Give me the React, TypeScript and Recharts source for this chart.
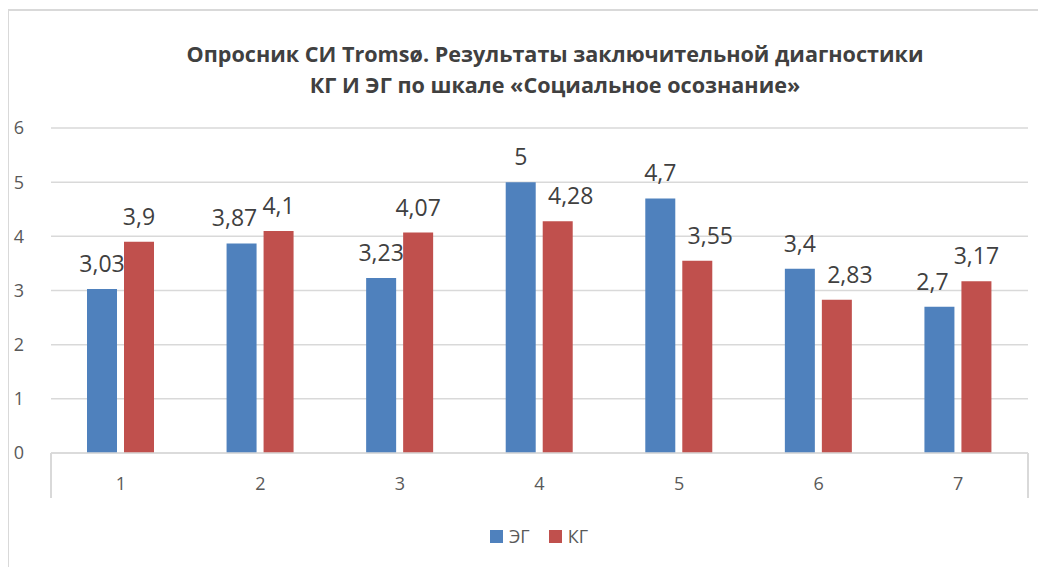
import React from 'react';
import {
    BarChart, Bar, XAxis, YAxis, CartesianGrid, LabelList
} from 'recharts';

const categories = ['1', '2', '3', '4', '5', '6', '7'];
const egValues = [3.03, 3.87, 3.23, 5, 4.7, 3.4, 2.7];
const kgValues = [3.9, 4.1, 4.07, 4.28, 3.55, 2.83, 3.17];
const yTicks = [0, 1, 2, 3, 4, 5, 6];

const seriesNames = ['ЭГ', 'КГ'];
const seriesColors = ['#4F81BD', '#C0504D'];

const titleLines = [
    'Опросник СИ Tromsø. Результаты заключительной диагностики',
    'КГ И ЭГ по шкале «Социальное осознание»',
];

const data = categories.map((c, i) => ({ name: c, eg: egValues[i], kg: kgValues[i] }));

const FONT = '"Open Sans", sans-serif';
const TEXT = '#595959';
const GRID = '#d9d9d9';

const fmt = (v: any) => String(v).replace('.', ',');

// value label above a bar; nudged sideways when the neighbour bar is close in height
function makeLabel(series: 'eg' | 'kg') {
    return (props: any) => {
        const { x, y, width, value, index } = props;
        const other = series === 'eg' ? kgValues[index] : egValues[index];
        let dx = 0;
        if (series === 'kg' && other > value) dx = 13;
        if (series === 'eg' && other > value && other - value < 0.5) dx = -7;
        return (
            <text x={x + width / 2 + dx} y={y - 17} textAnchor="middle" fill="#404040" fontSize={23} fontFamily={FONT}>
                {fmt(value)}
            </text>
        );
    };
}

export default function App() {
    return (
        <div style={{ position: 'relative', width: 1038, height: 559 }}>
            <div style={{ position: 'absolute', left: -8, top: -8, width: 1046, height: 567, overflow: 'hidden', background: '#fff' }}>
                {/* chart frame */}
                <div style={{ position: 'absolute', left: 7, top: 9, width: 1100, height: 600, borderLeft: `2px solid ${GRID}`, borderTop: `2px solid ${GRID}` }} />
                <div style={{ position: 'absolute', left: 0, top: 38, width: 1110, textAlign: 'center', fontFamily: FONT, fontWeight: 700, fontSize: 21.6, lineHeight: '31px', color: '#404040' }}>
                    {titleLines.map((t) => <div key={t}>{t}</div>)}
                </div>
                <div style={{ position: 'absolute', left: 0, top: 0 }}>
                    <BarChart
                        width={1046}
                        height={567}
                        data={data}
                        margin={{ top: 128, right: 18, bottom: 84, left: 0 }}
                        barSize={30}
                        barGap={7}
                    >
                        <CartesianGrid vertical={false} stroke={GRID} strokeWidth={1.5} />
                        <XAxis
                            dataKey="name"
                            height={30}
                            axisLine={{ stroke: GRID, strokeWidth: 1.5 }}
                            tickLine={false}
                            tickSize={0}
                            tickMargin={24}
                            tick={{ fill: TEXT, fontSize: 18, fontFamily: FONT }}
                        />
                        <YAxis
                            width={51}
                            domain={[0, 6]}
                            ticks={yTicks}
                            axisLine={false}
                            tickLine={false}
                            tickSize={0}
                            tickMargin={27}
                            tick={{ fill: TEXT, fontSize: 18, fontFamily: FONT }}
                        />
                        <Bar dataKey="eg" name={seriesNames[0]} fill={seriesColors[0]} isAnimationActive={false}>
                            <LabelList dataKey="eg" content={makeLabel('eg')} />
                        </Bar>
                        <Bar dataKey="kg" name={seriesNames[1]} fill={seriesColors[1]} isAnimationActive={false}>
                            <LabelList dataKey="kg" content={makeLabel('kg')} />
                        </Bar>
                    </BarChart>
                </div>
                {/* category boundary marks at axis ends */}
                <div style={{ position: 'absolute', left: 50, top: 453, width: 2, height: 45, background: GRID }} />
                <div style={{ position: 'absolute', left: 1027, top: 453, width: 2, height: 45, background: GRID }} />
                {/* legend */}
                <div style={{ position: 'absolute', left: 0, top: 524, width: 1078, display: 'flex', justifyContent: 'center', gap: 19, fontFamily: FONT, fontSize: 18, color: TEXT }}>
                    {seriesNames.map((n, i) => (
                        <div key={n} style={{ display: 'flex', alignItems: 'center', gap: 6 }}>
                            <span style={{ width: 13, height: 13, background: seriesColors[i], display: 'inline-block' }} />
                            <span>{n}</span>
                        </div>
                    ))}
                </div>
            </div>
        </div>
    );
}
